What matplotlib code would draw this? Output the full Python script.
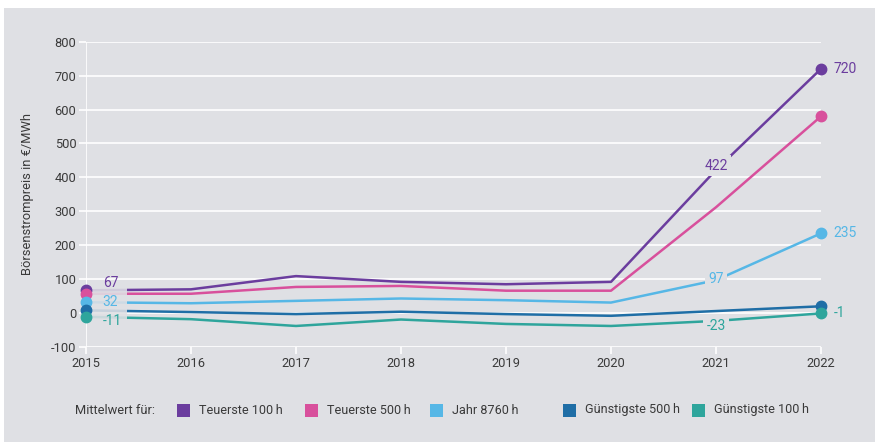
import matplotlib
matplotlib.use("Agg")
import matplotlib.pyplot as plt
from matplotlib.patches import Rectangle

plt.rcParams['font.family'] = ['Roboto', 'DejaVu Sans']
plt.rcParams['axes.unicode_minus'] = False

years = [2015, 2016, 2017, 2018, 2019, 2020, 2021, 2022]
teuerste_100 = [67, 70, 109, 92, 85, 92, 422, 720]
teuerste_500 = [57, 57, 77, 80, 66, 66, 312, 580]
jahr_8760 = [32, 29, 36, 43, 38, 31, 97, 235]
guenstigste_500 = [8, 3, -3, 4, -3, -8, 6, 20]
guenstigste_100 = [-11, -18, -38, -19, -32, -38, -23, -1]

series_names = ["Teuerste 100\u2009h", "Teuerste 500\u2009h", "Jahr 8760\u2009h",
                "Günstigste 500\u2009h", "Günstigste 100\u2009h"]
series_values = [teuerste_100, teuerste_500, jahr_8760, guenstigste_500, guenstigste_100]
colors = ["#6b3d9e", "#d8509c", "#56b7e6", "#1f6ea6", "#2ea59c"]

# which series carry value labels at the start, in 2021 and at the end
start_labeled = [0, 2, 4]
mid_labeled = [0, 2, 4]
end_labeled = [0, 2, 4]

bg = "#dfe0e4"
text_col = "#3a3a3a"
W, H = 875, 442

fig = plt.figure(figsize=(W / 100, H / 100), dpi=100, facecolor="white")
fig.patches.append(Rectangle((4 / W, 0), 1, 1 - 8 / H, transform=fig.transFigure,
                             facecolor=bg, edgecolor="none", zorder=-10))

ax = fig.add_axes([86 / W, 95 / H, 735 / W, (347 - 41.7) / H])
ax.set_facecolor("none")
ax.set_xlim(2015, 2022)
ax.set_ylim(-100, 800)

# grid and axis in white
ax.set_yticks(range(-100, 801, 100))
ax.set_xticks(years)
for y in range(-100, 801, 100):
    ax.axhline(y, color="white", lw=1.2, zorder=1)
ax.axvline(2015, color="white", lw=1.2, zorder=1)
for s in ax.spines.values():
    s.set_visible(False)
ax.tick_params(axis="both", colors="white", width=1.2, length=5,
               labelcolor=text_col, labelsize=9.3)
ax.tick_params(axis="y", pad=2)
ax.tick_params(axis="x", pad=2)

ax.set_ylabel("Börsenstrompreis in €/MWh", color=text_col, fontsize=9.3)
ax.yaxis.set_label_coords(-0.071, 0.5)

for vals, c in zip(series_values, colors):
    ax.plot(years, vals, color=c, lw=1.8, zorder=3, solid_capstyle="round",
            clip_on=False)
    ax.plot([years[0], years[-1]], [vals[0], vals[-1]], "o", color=c, ms=7.5,
            zorder=6, clip_on=False)

# soft mask behind the start labels
first_vals = [v[0] for v in series_values]
ax.add_patch(Rectangle((years[0] + 0.06, min(first_vals) - 12), 0.33,
                       max(first_vals) - min(first_vals) + 24,
                       facecolor=bg, edgecolor="none", alpha=0.88, zorder=4))

start_offsets = {0: 5, 2: 0, 4: -3}
for i in start_labeled:
    v = series_values[i][0]
    ax.annotate(f"{v}", (years[0], v), xytext=(12, start_offsets[i]),
                textcoords="offset points", ha="left", va="center",
                color=colors[i], fontsize=10, zorder=7)

mid_offsets = {0: 3, 2: 1, 4: -4}
for i in mid_labeled:
    v = series_values[i][6]
    ax.annotate(f"{v}", (years[6], v), xytext=(0, mid_offsets[i]),
                textcoords="offset points", ha="center", va="center",
                color=colors[i], fontsize=10, zorder=7,
                bbox=dict(boxstyle="square,pad=0.25", facecolor=bg,
                          edgecolor="none"))

for i in end_labeled:
    v = series_values[i][-1]
    ax.annotate(f"{v}", (years[-1], v), xytext=(9, 0),
                textcoords="offset points", ha="left", va="center",
                color=colors[i], fontsize=10, zorder=7, annotation_clip=False)

# legend, laid out by hand
legend_y = 1 - 410 / H
fig.text(75 / W, legend_y, "Mittelwert für:", color=text_col,
         fontsize=9.3, ha="left", va="center")
swatch_x = [177, 305, 430, 563, 692]
sw, sh = 13, 13
for x0, name, c in zip(swatch_x, series_names, colors):
    fig.patches.append(Rectangle((x0 / W, legend_y - sh / 2 / H), sw / W, sh / H,
                                 transform=fig.transFigure, facecolor=c,
                                 edgecolor="none"))
    fig.text((x0 + sw + 9) / W, legend_y, name, color=text_col,
             fontsize=9.1, ha="left", va="center")

fig.savefig("out.png", dpi=100, facecolor="white")
